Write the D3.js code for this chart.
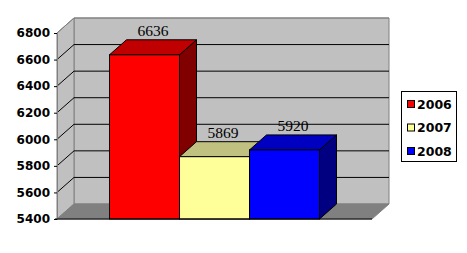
<!DOCTYPE html>
<html>
<head>
<meta charset="utf-8">
<script src="https://cdn.jsdelivr.net/npm/d3@7"></script>
<style>
    body { margin: 0; background: #fff; }
    svg { display: block; }
</style>
</head>
<body>
<div id="chart"></div>
<script>
// chart data
const years = ["2006", "2007", "2008"];
const values = [6636, 5869, 5920];
const yTicks = [5400, 5600, 5800, 6000, 6200, 6400, 6600, 6800];

const faceColors = ["#ff0000", "#ffff99", "#0000ff"];
const topColors = ["#c00000", "#c0c080", "#0000c0"];
const sideColors = ["#800000", "#808060", "#000080"];

const width = 467;
const height = 253;
// oblique depth offset
const dx = 17;
const dy = -15;

const svg = d3
    .select("#chart")
    .append("svg")
    .attr("width", width)
    .attr("height", height);

const x = d3
    .scaleBand()
    .domain(years)
    .range([57, 372])
    .paddingInner(0)
    .paddingOuter(0.75);

const y = d3.scaleLinear().domain([5400, 6800]).range([219, 33]);

const x0 = x.range()[0];
const x1 = x.range()[1];
const yBot = y(5400);
const yTop = y(6800);

const poly = (pts) => "M" + pts.map((p) => p.join(",")).join("L") + "Z";

// back wall
svg.append("path")
    .attr("d", poly([[x0 + dx, yTop + dy], [x1 + dx, yTop + dy], [x1 + dx, yBot + dy], [x0 + dx, yBot + dy]]))
    .attr("fill", "#c0c0c0")
    .attr("stroke", "#808080");

// left wall
svg.append("path")
    .attr("d", poly([[x0, yTop], [x0 + dx, yTop + dy], [x0 + dx, yBot + dy], [x0, yBot]]))
    .attr("fill", "#c0c0c0")
    .attr("stroke", "#808080");

// floor
svg.append("path")
    .attr("d", poly([[x0, yBot], [x0 + dx, yBot + dy], [x1 + dx, yBot + dy], [x1, yBot]]))
    .attr("fill", "#808080")
    .attr("stroke", "#808080");

// gridlines
const grid = svg.append("g").attr("fill", "none");
yTicks.slice(1).forEach((t, i, arr) => {
    const c = i === arr.length - 1 ? "#808080" : "#000";
    grid.append("path")
        .attr("d", `M${x0},${y(t)}L${x0 + dx},${y(t) + dy}L${x1 + dx},${y(t) + dy}`)
        .attr("stroke", c);
});

// y axis
const yAxis = d3
    .axisLeft(y)
    .tickValues(yTicks)
    .tickSize(3)
    .tickPadding(4)
    .tickFormat(d3.format("d"));

const ag = svg.append("g").attr("transform", `translate(${x0},0)`).call(yAxis);
ag.select(".domain").attr("stroke", "#808080");
ag.selectAll(".tick line").attr("stroke", "#000");
ag.selectAll(".tick text")
    .attr("fill", "#000")
    .style("font-family", "DejaVu Sans, Verdana, sans-serif")
    .style("font-weight", "bold")
    .style("font-size", "12px");

// bars, drawn left to right so each front face covers the previous side face
years.forEach((yr, i) => {
    const bx = x(yr);
    const bw = x.bandwidth();
    const top = y(values[i]);
    const g = svg.append("g").attr("stroke", "#000").attr("stroke-width", 1);

    g.append("path")
        .attr("d", poly([[bx + bw, top], [bx + bw + dx, top + dy], [bx + bw + dx, yBot + dy], [bx + bw, yBot]]))
        .attr("fill", sideColors[i]);
    g.append("path")
        .attr("d", poly([[bx, top], [bx + dx, top + dy], [bx + bw + dx, top + dy], [bx + bw, top]]))
        .attr("fill", topColors[i]);
    g.append("rect")
        .attr("x", bx)
        .attr("y", top)
        .attr("width", bw)
        .attr("height", yBot - top)
        .attr("fill", faceColors[i]);
});

// value labels
svg.append("g")
    .selectAll("text")
    .data(values)
    .join("text")
    .attr("x", (d, i) => x(years[i]) + x.bandwidth() / 2 + dx / 2)
    .attr("y", (d) => y(d) + dy - 4)
    .attr("text-anchor", "middle")
    .style("font-family", "Liberation Serif, Times New Roman, serif")
    .style("font-size", "15.5px")
    .text((d) => d);

// x axis line
svg.append("line")
    .attr("x1", x0 - 2)
    .attr("x2", x1)
    .attr("y1", yBot)
    .attr("y2", yBot)
    .attr("stroke", "#000");

// legend
const legend = svg.append("g");
legend.append("rect")
    .attr("x", 401.5)
    .attr("y", 91.5)
    .attr("width", 55)
    .attr("height", 70)
    .attr("fill", "#fff")
    .attr("stroke", "#000");

const legendY = [104, 127.5, 151];
years.forEach((yr, i) => {
    legend.append("rect")
        .attr("x", 407.5)
        .attr("y", legendY[i] - 3.5)
        .attr("width", 7)
        .attr("height", 7)
        .attr("fill", faceColors[i])
        .attr("stroke", "#000");
    legend.append("text")
        .attr("x", 417)
        .attr("y", legendY[i])
        .attr("dy", "0.36em")
        .style("font-family", "DejaVu Sans, Verdana, sans-serif")
        .style("font-weight", "bold")
        .style("font-size", "12.5px")
        .text(yr);
});
</script>
</body>
</html>
